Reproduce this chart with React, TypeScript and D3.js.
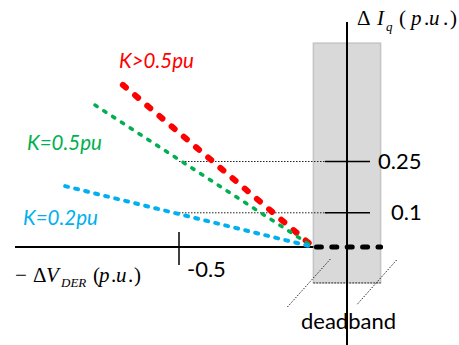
import React from 'react';
import * as d3 from 'd3';

// droop characteristic lines: start point (-ΔV, ΔIq) in p.u., all end at the deadband edge
const seriesNames = ['K>0.5pu', 'K=0.5pu', 'K=0.2pu'];
const seriesColors = ['#ff0000', '#00b050', '#00b0f0'];
const seriesStartV = [-0.667, -0.75, -0.839];
const seriesStartI = [0.474, 0.415, 0.178];
const deadband = 0.1;

const xTickValues = [-0.5];
const xTickLabels = ['-0.5'];
const yTickValues = [0.25, 0.1];
const yTickLabels = ['0.25', '0.1'];

const W = 459;
const H = 345;

const App: React.FC = () => {
  const x = d3.scaleLinear().domain([-1, 0]).range([11, 347]);
  const y = d3.scaleLinear().domain([0, 0.5]).range([247, 76]);
  const line = d3.line<[number, number]>().x((d) => x(d[0])).y((d) => y(d[1]));

  const dashes = [
    { w: 6, dash: '4 12' },
    { w: 3.6, dash: '2.5 8' },
    { w: 4, dash: '3 7.3' },
  ];
  const labelPos = [
    { x: 119, y: 68 },
    { x: 27, y: 150 },
    { x: 23, y: 225 },
  ];

  const x0 = x(0);
  const y0 = y(0);
  const dbL = x(-deadband);
  const dbR = x(deadband);
  const sans = 'Lato, "Open Sans", sans-serif';
  const serif = '"Liberation Serif", "DejaVu Serif", serif';

  return (
    <svg width={W} height={H} style={{ position: 'absolute', left: 0, top: 0, background: '#fff' }}>
      {/* deadband region */}
      <rect x={dbL} y={y(0.596)} width={dbR - dbL} height={y(-0.105) - y(0.596)}
        fill="#d9d9d9" stroke="#c4c4c4" strokeWidth={1.5} />
      <line x1={dbL} x2={dbR} y1={y(-0.105)} y2={y(-0.105)} stroke="#222" strokeWidth={1} strokeDasharray="1.5 1.5" />
      <line x1={dbL + 17} y1={259} x2={dbL - 26} y2={307} stroke="#222" strokeWidth={1} strokeDasharray="1.5 1.5" />
      <line x1={dbR + 16} y1={260} x2={dbR - 24} y2={305} stroke="#222" strokeWidth={1} strokeDasharray="1.5 1.5" />

      {/* guide lines */}
      {yTickValues.map((v) => (
        <line key={'g' + v} x1={x(xTickValues[0])} x2={x0 - 20} y1={y(v)} y2={y(v)}
          stroke="#222" strokeWidth={1} strokeDasharray="1.5 1.5" />
      ))}

      {/* axes */}
      <line x1={x(-0.988)} x2={dbL} y1={y0} y2={y0} stroke="#000" strokeWidth={2} />
      <line x1={x0} x2={x0} y1={y(0.658)} y2={H} stroke="#000" strokeWidth={2} />

      {/* ticks */}
      {xTickValues.map((v, i) => (
        <g key={'x' + v}>
          <line x1={x(v)} x2={x(v)} y1={y0 - 15} y2={y0 + 18} stroke="#000" strokeWidth={1.5} />
          <text x={x(v) + 8} y={277} fontFamily={sans} fontSize={22} fill="#000">{xTickLabels[i]}</text>
        </g>
      ))}
      {yTickValues.map((v, i) => (
        <g key={'y' + v}>
          <line x1={x0 - 22} x2={x0 + 23} y1={y(v)} y2={y(v)} stroke="#000" strokeWidth={1.5} />
          <text x={i === 0 ? 378 : 391} y={y(v) + 7} fontFamily={sans} fontSize={22} fill="#000">{yTickLabels[i]}</text>
        </g>
      ))}

      {/* droop lines */}
      {seriesNames.map((name, i) => (
        <path key={name}
          d={line([[seriesStartV[i], seriesStartI[i]], [-deadband, 0]]) || ''}
          fill="none" stroke={seriesColors[i]} strokeWidth={dashes[i].w}
          strokeLinecap="round" strokeDasharray={dashes[i].dash} />
      ))}
      {seriesNames.map((name, i) => (
        <text key={'l' + name} x={labelPos[i].x} y={labelPos[i].y} fontFamily={sans}
          fontStyle="italic" fontSize={20.5} fill={seriesColors[i]}>{name}</text>
      ))}

      {/* zero output inside deadband */}
      <line x1={dbL + 3} x2={dbR} y1={y0} y2={y0} stroke="#000" strokeWidth={5}
        strokeLinecap="round" strokeDasharray="5 10.4" />

      {/* axis titles */}
      <text y={25} fontFamily={serif} fontSize={21} fill="#000">
        <tspan x={357}>Δ</tspan>
        <tspan x={377} fontStyle="italic">I</tspan>
        <tspan x={386} fontStyle="italic" fontSize={13} dy={6}>q</tspan>
        <tspan x={399} dy={-6}>(</tspan>
        <tspan x={411} fontStyle="italic">p</tspan>
        <tspan x={424}>.</tspan>
        <tspan x={429} fontStyle="italic">u</tspan>
        <tspan x={443}>.</tspan>
        <tspan x={450}>)</tspan>
      </text>
      <text y={282} fontFamily={serif} fontSize={21} fill="#000">
        <tspan x={15}>−</tspan>
        <tspan x={33}>Δ</tspan>
        <tspan x={46} fontStyle="italic">V</tspan>
        <tspan x={61} fontStyle="italic" fontSize={13} dy={5}>DER</tspan>
        <tspan x={93} dy={-5}>(</tspan>
        <tspan x={99} fontStyle="italic">p</tspan>
        <tspan x={111}>.</tspan>
        <tspan x={116} fontStyle="italic">u</tspan>
        <tspan x={128}>.</tspan>
        <tspan x={134}>)</tspan>
      </text>

      <text x={301} y={329} fontFamily={sans} fontSize={22} fill="#000">deadband</text>
    </svg>
  );
};

export default App;
